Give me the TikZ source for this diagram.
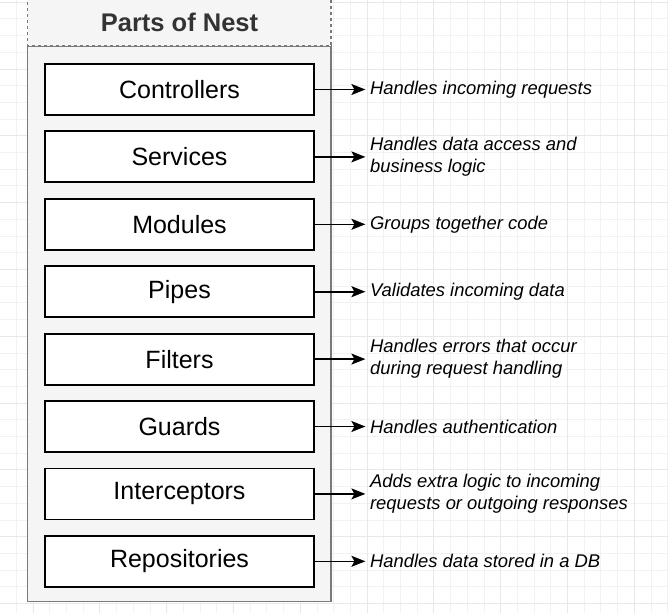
\documentclass[tikz,border=0pt]{standalone}
\usepackage{fontspec}
\setmainfont{Liberation Sans}
\usetikzlibrary{positioning,arrows.meta}

\definecolor{lanefill}{HTML}{F5F5F5}
\definecolor{laneline}{HTML}{7A7A7A}
\definecolor{titletext}{HTML}{333333}

\begin{document}
\begin{tikzpicture}[
      x=1pt, y=1pt, node distance=14.6pt,
      part/.style={draw, line width=1.8pt, fill=white, minimum width=269pt, minimum height=51pt,
        inner sep=0pt, font=\fontsize{25}{30}\selectfont},
      role/.style={right=50.5pt of #1, inner xsep=4.5pt, inner ysep=0pt, align=left,
        font=\fontsize{18.4}{22}\selectfont\itshape},
      link/.style={draw, line width=1.6pt, -{Stealth[length=14pt, width=11pt, inset=3pt]}}
      ]

      \path[use as bounding box] (0,0) rectangle (668,-612);
      % le quadrillage de l'editeur
      \draw[black!5, line width=0.6pt, shift={(-0.5,-2.1)}, step=16.7] (0,-612) grid (668,2);
      \draw[black!9, line width=0.6pt, shift={(32.8,-2.1)}, step=66.8] (-33,-612) grid (668,2);

      % le conteneur
      \path[draw=laneline, line width=1.3pt, fill=lanefill] (27.7,-46) rectangle (331,-601.7);
      \path[draw=laneline, line width=1.1pt, dashed, fill=lanefill] (27.7,4) rectangle (331,-46);
      \node[font=\fontsize{25.5}{30}\selectfont\bfseries, text=titletext] (title) at (179.5,-22) {Parts of Nest};

      \node[part] (controllers) at (179.5,-89.5) {Controllers};
      \node[part, below=of controllers] (services) {Services};
      \node[part, below=of services] (modules) {Modules};
      \node[part, below=of modules] (pipes) {Pipes};
      \node[part, below=of pipes] (filters) {Filters};
      \node[part, below=of filters] (guards) {Guards};
      \node[part, below=of guards] (interceptors) {Interceptors};
      \node[part, below=of interceptors] (repositories) {Repositories};

      \node[role=controllers] (controllers-role) {Handles incoming requests};
      \node[role=services] (services-role) {Handles data access and\\business logic};
      \node[role=modules] (modules-role) {Groups together code};
      \node[role=pipes] (pipes-role) {Validates incoming data};
      \node[role=filters] (filters-role) {Handles errors that occur\\during request handling};
      \node[role=guards] (guards-role) {Handles authentication};
      \node[role=interceptors] (interceptors-role) {Adds extra logic to incoming\\requests or outgoing responses};
      \node[role=repositories] (repositories-role) {Handles data stored in a DB};

      \path[link] (controllers.east) -- (controllers-role.west);
      \path[link] (services.east) -- (services-role.west);
      \path[link] (modules.east) -- (modules-role.west);
      \path[link] (pipes.east) -- (pipes-role.west);
      \path[link] (filters.east) -- (filters-role.west);
      \path[link] (guards.east) -- (guards-role.west);
      \path[link] (interceptors.east) -- (interceptors-role.west);
      \path[link] (repositories.east) -- (repositories-role.west);
    \end{tikzpicture}
\end{document}
